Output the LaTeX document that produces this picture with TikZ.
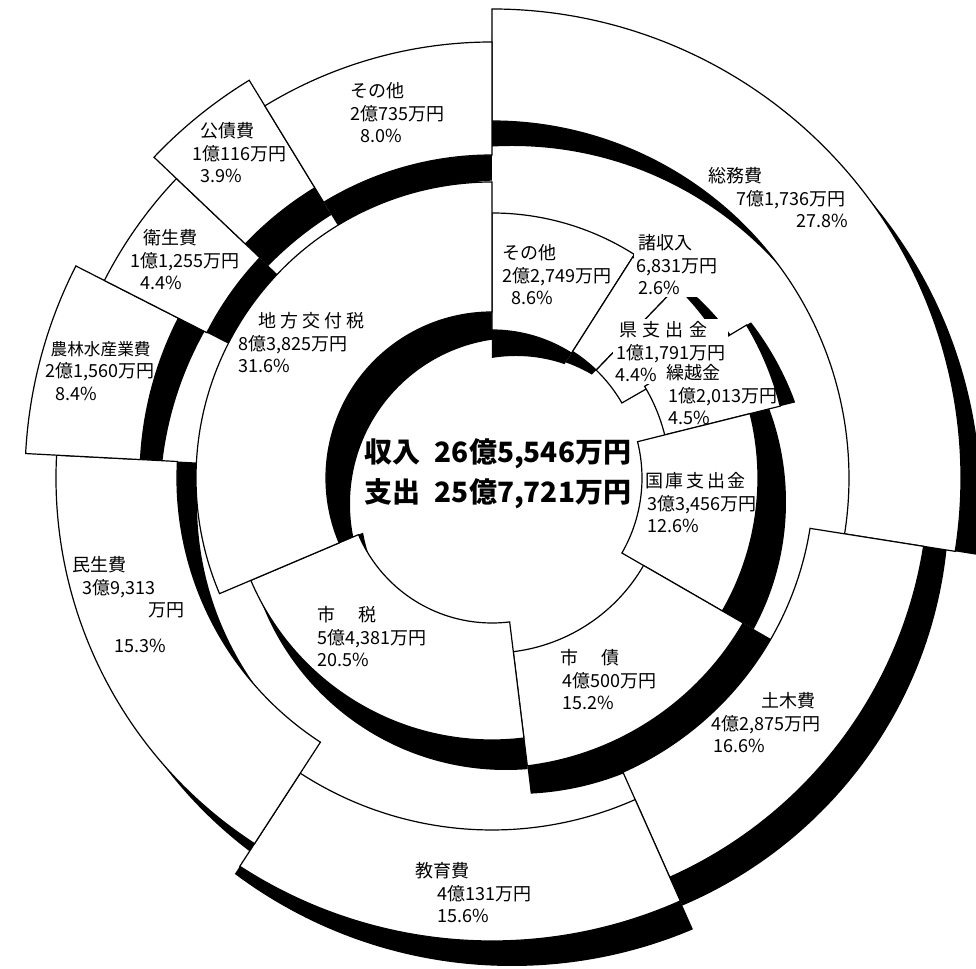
\documentclass[tikz,border=0pt]{standalone}
\usepackage{fontspec}
\setmainfont{Noto Sans CJK JP}

\newcommand{\ringpart}[4]{(#1:#3) arc[start angle=#1, end angle=#2, radius=#3] -- (#2:#4) arc[start angle=#2, end angle=#1, radius=#4] -- cycle}
\newcommand{\shadowpart}[5]{\begin{scope}
  \clip (0,0) -- (#1:700) arc[start angle=#1, end angle=#2, radius=700] -- cycle;
  \fill [#5, even odd rule] (0,0) circle[radius=#4] (0,0) circle[radius=#3];
\end{scope}}
\newcommand{\lblfont}{\fontsize{13.5}{17}\selectfont}
\newcommand{\sumfont}{\fontsize{21}{28}\selectfont\bfseries}

\begin{document}
\begin{tikzpicture}[x=0.75pt, y=0.75pt,
  sector/.style={draw=black, fill=white, line width=0.9pt},
  outshadow/.style={fill=black, shift={(20,-25)}},
  inshadow/.style={fill=black, shift={(24,-26)}},
  lbl/.style={anchor=north west, align=left, inner sep=0pt, font=\lblfont},
  lblw/.style={lbl, fill=white, inner sep=1.5pt},
  total/.style={font=\sumfont, inner sep=0pt}]

\useasboundingbox (-492,-491) rectangle (484,478);

\shadowpart{90}{-9}{357}{469}{outshadow}
\shadowpart{-9}{-66}{322}{437}{outshadow}
\shadowpart{-66}{-123}{352}{463}{outshadow}
\shadowpart{-123}{-183}{315}{436}{outshadow}
\shadowpart{-183}{-207}{352}{467}{outshadow}
\shadowpart{-207}{-223.5}{320}{435}{outshadow}
\shadowpart{-223.5}{-238.6}{340}{466}{outshadow}
\shadowpart{-238.6}{-270}{323}{436}{outshadow}

\shadowpart{90}{57.5}{148}{265}{inshadow}
\shadowpart{57.5}{46}{150}{262}{inshadow}
\shadowpart{46}{30}{150}{266}{fill=black, shift={(24,-14)}}
\shadowpart{31}{14}{178}{297}{inshadow}
\shadowpart{14}{-30}{150}{266}{fill=black, shift={(28,-24)}}
\shadowpart{-30}{-83}{175}{290}{inshadow}
\shadowpart{-83}{-157}{145}{262}{fill=black, shift={(14,-30)}}
\shadowpart{-157}{-270}{166}{296}{inshadow}

\draw [sector] \ringpart{90}{-9}{357}{469};
\draw [sector] \ringpart{-9}{-66}{322}{437};
\draw [sector] \ringpart{-66}{-123}{352}{463};
\draw [sector] \ringpart{-123}{-183}{315}{436};
\draw [sector] \ringpart{-183}{-207}{352}{467};
\draw [sector] \ringpart{-207}{-223.5}{320}{435};
\draw [sector] \ringpart{-223.5}{-238.6}{340}{466};
\draw [sector] \ringpart{-238.6}{-270}{323}{436};

\draw [sector] \ringpart{90}{57.5}{148}{265};
\draw [sector] \ringpart{57.5}{46}{150}{262};
\draw [sector] \ringpart{46}{30}{150}{266};
\draw [sector] \ringpart{31}{14}{178}{297};
\draw [sector] \ringpart{14}{-30}{150}{266};
\draw [sector] \ringpart{-30}{-83}{175}{290};
\draw [sector] \ringpart{-83}{-157}{145}{262};
\draw [sector] \ringpart{-157}{-270}{166}{296};

\node [total] (totIn) at (6,24) {収入\hspace{0.5em}26億5,546万円};
\node [total] (totOut) at (6,-16) {支出\hspace{0.5em}25億7,721万円};

\node [lbl] (rOther) at (10,234) {その他\\2億2,749万円\\\hspace*{7pt}8.6\%};
\node [lblw] (rMisc) at (142,246) {\hspace*{2pt}諸収入\\6,831万円\\\hspace*{2pt}2.6\%};
\node [lblw] (rPref) at (121,159) {\hspace*{3pt}県\hspace{4pt}支\hspace{4pt}出\hspace{4pt}金\\\hspace*{1pt}1億1,791万円\\4.4\%};
\node [lbl] (rCarry) at (174,114) {繰越金\\\hspace*{2pt}1億2,013万円\\\hspace*{2pt}4.5\%};
\node [lbl] (rNat) at (153,6) {国\hspace{2pt}庫\hspace{2pt}支\hspace{2pt}出\hspace{2pt}金\\\hspace*{1.5pt}3億3,456万円\\\hspace*{1.5pt}12.6\%};
\node [lbl] (rBond) at (68,-171) {市\hspace{1.3em}債\\\hspace*{1.5pt}4億500万円\\\hspace*{1.5pt}15.2\%};
\node [lbl] (rTax) at (-175,-128) {市\hspace{1.3em}税\\5億4,381万円\\20.5\%};
\node [lbl] (rLocal) at (-254,166) {\hspace*{15pt}地\hspace{3pt}方\hspace{3pt}交\hspace{3pt}付\hspace{3pt}税\\8億3,825万円\\31.6\%};

\node [lbl] (eGen) at (216,311) {総務費\\\hspace*{21pt}7億1,736万円\\\hspace*{66pt}27.8\%};
\node [lbl] (eCivil) at (219,-214) {\hspace*{38pt}土木費\\4億2,875万円\\\hspace*{1.5pt}16.6\%};
\node [lbl] (eEdu) at (-77,-384) {教育費\\\hspace*{16.5pt}4億131万円\\\hspace*{17pt}15.6\%};
\node [lbl] (eWel) at (-420,-78) {民生費\\\hspace*{7.5pt}3億9,313\\\hspace*{57pt}万円\\[10pt]\hspace*{32pt}15.3\%};
\node [lbl] (eAgri) at (-447,137) {\hspace*{4pt}{\fontsize{12.5}{17}\selectfont 農林水産業費}\\2億1,560万円\\\hspace*{7.5pt}8.4\%};
\node [lbl] (eHyg) at (-362,249) {\hspace*{10pt}衛生費\\1億1,255万円\\\hspace*{7.5pt}4.4\%};
\node [lbl] (eDebt) at (-300,356) {\hspace*{6pt}公債費\\1億116万円\\\hspace*{6pt}3.9\%};
\node [lbl] (eOther) at (-142,396) {その他\\2億735万円\\\hspace*{7.5pt}8.0\%};

\end{tikzpicture}
\end{document}
